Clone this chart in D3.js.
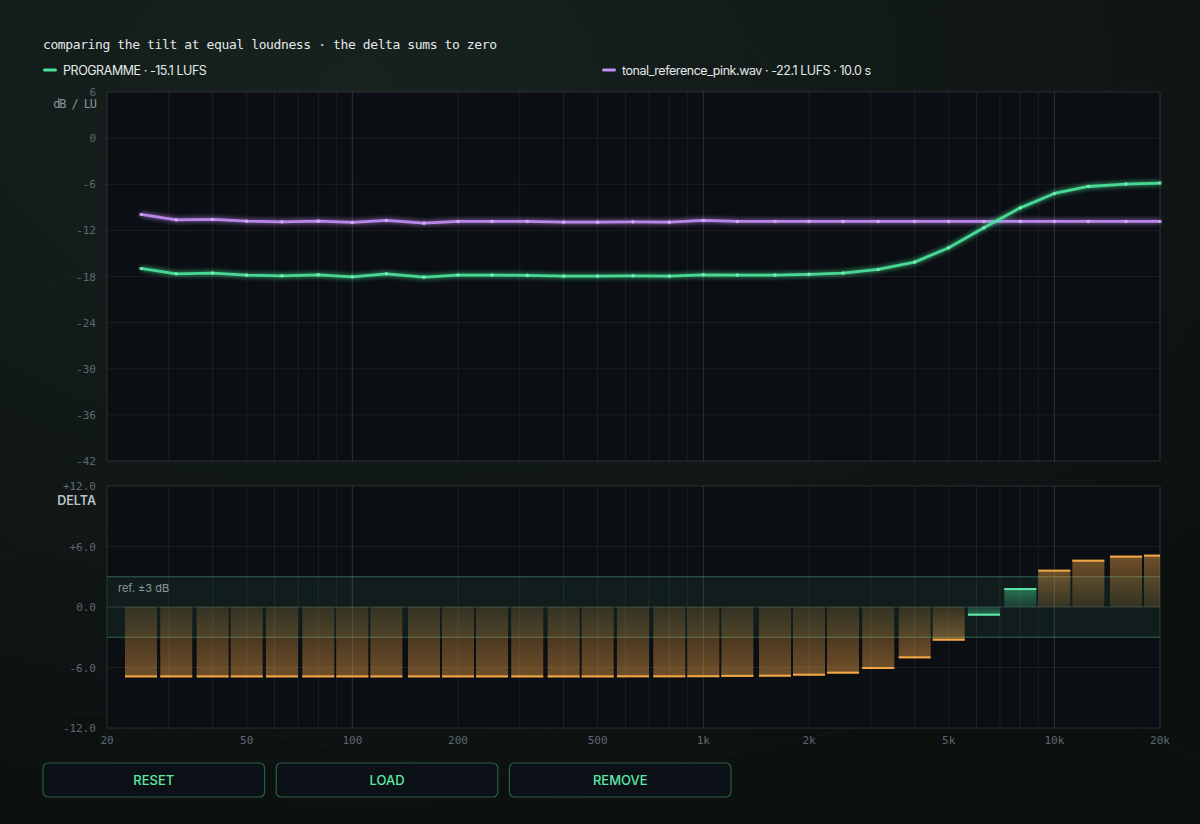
<!DOCTYPE html>
<html>
<head>
<meta charset="utf-8">
<script src="https://cdn.jsdelivr.net/npm/d3@7/dist/d3.min.js"></script>
<style>
  html, body { margin: 0; padding: 0; background: #0d1413; }
  svg { display: block; }
</style>
</head>
<body>
<script>
// 1/3-octave band centres (Hz)
var bands = [25, 31.5, 40, 50, 63, 80, 100, 125, 160, 200, 250, 315, 400, 500, 630, 800,
             1000, 1250, 1600, 2000, 2500, 3150, 4000, 5000, 6300, 8000, 10000, 12500, 16000, 20000];

// programme spectrum, dB/LU
var programme = [-16.95, -17.65, -17.56, -17.82, -17.91, -17.78, -18.04, -17.65, -18.08, -17.82,
                 -17.82, -17.86, -17.95, -17.95, -17.91, -17.95, -17.78, -17.82, -17.82, -17.73,
                 -17.56, -17.08, -16.13, -14.27, -11.67, -9.07, -7.20, -6.29, -5.98, -5.85];

// reference spectrum, dB/LU
var reference = [-9.93, -10.63, -10.58, -10.80, -10.89, -10.80, -10.97, -10.71, -11.06, -10.84,
                 -10.84, -10.84, -10.93, -10.93, -10.89, -10.93, -10.71, -10.84, -10.84, -10.84,
                 -10.84, -10.84, -10.84, -10.84, -10.84, -10.84, -10.84, -10.84, -10.84, -10.84];

// delta per band, dB
var delta = [-6.98, -6.98, -6.98, -6.98, -6.98, -6.98, -6.98, -6.98, -6.98, -6.98,
             -6.98, -6.98, -6.98, -6.98, -6.97, -6.97, -6.96, -6.93, -6.91, -6.81,
             -6.61, -6.15, -5.09, -3.34, -0.86, 1.88, 3.70, 4.69, 5.09, 5.19];

var topTicks = [6, 0, -6, -12, -18, -24, -30, -36, -42];
var deltaTicks = [12, 6, 0, -6, -12];
var freqTicks = [20, 50, 100, 200, 500, 1000, 2000, 5000, 10000, 20000];
var freqLabels = ["20", "50", "100", "200", "500", "1k", "2k", "5k", "10k", "20k"];
var buttons = ["RESET", "LOAD", "REMOVE"];

var W = 1200, H = 824;
var mono = "'DejaVu Sans Mono', monospace";
var sans = "Inter, 'Noto Sans', sans-serif";

var svg = d3.select("body").append("svg").attr("width", W).attr("height", H);
var defs = svg.append("defs");

// page background
var bg = defs.append("radialGradient").attr("id", "bg").attr("cx", "0.3").attr("cy", "0.1").attr("r", "0.9");
bg.append("stop").attr("offset", "0").attr("stop-color", "#17221f");
bg.append("stop").attr("offset", "1").attr("stop-color", "#0c1110");
svg.append("rect").attr("width", W).attr("height", H).attr("fill", "url(#bg)");

// faint contour lines in the background
var contour = svg.append("g").attr("fill", "none").attr("stroke", "rgba(150,190,170,0.04)").attr("stroke-width", 1);
contour.append("path").attr("d", "M0,560 C200,470 380,640 600,590 S980,440 1200,520");
contour.append("path").attr("d", "M0,300 C160,220 420,360 640,250 S1000,120 1200,200");
contour.append("path").attr("d", "M720,0 C760,90 880,140 1000,120 S1150,60 1200,90");
contour.append("path").attr("d", "M0,720 C240,680 420,820 700,760 S1050,690 1200,760");
contour.append("path").attr("d", "M0,470 C60,430 90,520 107,480");

// glow filter for the lines
var glow = defs.append("filter").attr("id", "glow").attr("x", "-5%").attr("y", "-50%").attr("width", "110%").attr("height", "200%");
glow.append("feGaussianBlur").attr("stdDeviation", 2.8).attr("result", "b");
var fm = glow.append("feMerge");
fm.append("feMergeNode").attr("in", "b");
fm.append("feMergeNode").attr("in", "SourceGraphic");

function barGrad(id, color, down) {
  var g = defs.append("linearGradient").attr("id", id).attr("x1", 0).attr("x2", 0)
    .attr("y1", down ? 0 : 1).attr("y2", down ? 1 : 0);
  g.append("stop").attr("offset", 0).attr("stop-color", color).attr("stop-opacity", 0.16);
  g.append("stop").attr("offset", 1).attr("stop-color", color).attr("stop-opacity", 0.45);
}
barGrad("orDown", "#eca247", true);
barGrad("orUp", "#eca247", false);
barGrad("grDown", "#4be39b", true);
barGrad("grUp", "#4be39b", false);

var x0 = 107, x1 = 1160;
var x = d3.scaleLog().domain([20, 20000]).range([x0, x1]);
var yTop = d3.scaleLinear().domain([-42, 6]).range([461, 92]);
var yDel = d3.scaleLinear().domain([-12, 12]).range([728, 486]);

// minor grid frequencies
var gridF = [];
[10, 100, 1000, 10000].forEach(function (dec) {
  for (var k = 1; k <= 9; k++) {
    var f = dec * k;
    if (f >= 20 && f <= 20000) gridF.push(f);
  }
});

function panel(y, ticks, fmt) {
  var top = y.range()[1], bot = y.range()[0];
  var g = svg.append("g");
  g.append("rect").attr("x", x0).attr("y", top).attr("width", x1 - x0).attr("height", bot - top)
    .attr("fill", "#0b0e12").attr("stroke", "rgba(255,255,255,0.07)");
  g.selectAll(".vg").data(gridF).enter().append("line")
    .attr("x1", function (d) { return x(d); }).attr("x2", function (d) { return x(d); })
    .attr("y1", top).attr("y2", bot)
    .attr("stroke", function (d) { return [100, 1000, 10000].indexOf(d) >= 0 ? "rgba(200,215,225,0.18)" : "rgba(200,215,225,0.085)"; });
  g.selectAll(".hg").data(ticks).enter().append("line")
    .attr("x1", x0).attr("x2", x1)
    .attr("y1", function (d) { return y(d); }).attr("y2", function (d) { return y(d); })
    .attr("stroke", "rgba(200,215,225,0.08)");
  g.selectAll(".tl").data(ticks).enter().append("text")
    .attr("x", 96).attr("y", function (d) { return y(d) + 4; })
    .attr("text-anchor", "end").attr("fill", "#5f6872")
    .style("font", "11px " + mono).text(fmt);
  return g;
}

panel(yTop, topTicks, function (d) { return d; });
panel(yDel, deltaTicks, function (d) { return (d > 0 ? "+" : "") + d.toFixed(1); });

svg.append("text").attr("x", 96).attr("y", 108).attr("text-anchor", "end").attr("fill", "#8a939c")
  .style("font", "12px " + mono).style("letter-spacing", "-1.1px").text("dB / LU");
svg.append("text").attr("x", 96).attr("y", 505).attr("text-anchor", "end").attr("fill", "#b9c1c8")
  .style("font", "600 12.5px " + sans).text("DELTA");

// title + legend
svg.append("text").attr("x", 43).attr("y", 49).attr("fill", "#e4e8e9")
  .attr("textLength", 454).attr("lengthAdjust", "spacing")
  .style("font", "13px " + mono)
  .text("comparing the tilt at equal loudness \u00b7 the delta sums to zero");
var legend = [
  { x: 43, color: "#4be39b", label: "PROGRAMME \u00b7 -15.1 LUFS" },
  { x: 602, color: "#c38ef5", label: "tonal_reference_pink.wav \u00b7 -22.1 LUFS \u00b7 10.0 s" }
];
var lg = svg.selectAll(".lg").data(legend).enter().append("g");
lg.append("rect").attr("x", function (d) { return d.x; }).attr("y", 68.5).attr("width", 14).attr("height", 3)
  .attr("rx", 1.5).attr("fill", function (d) { return d.color; });
lg.append("text").attr("x", function (d) { return d.x + 20; }).attr("y", 74.5).attr("fill", "#e4e8e9")
  .style("font", "12.5px " + sans).style("letter-spacing", "-0.45px").text(function (d) { return d.label; });

// spectrum lines
var line = d3.line().x(function (d, i) { return x(bands[i]); }).y(function (d) { return yTop(d); });
[{ v: reference, c: "#c38ef5", p: "#d9b8fa" }, { v: programme, c: "#4be39b", p: "#8ef0c0" }].forEach(function (s) {
  svg.append("path").datum(s.v).attr("d", line).attr("fill", "none")
    .attr("stroke", s.c).attr("stroke-width", 2.8).attr("stroke-linejoin", "round")
    .attr("filter", "url(#glow)").attr("opacity", 0.95);
  svg.selectAll(null).data(s.v).enter().append("circle")
    .attr("cx", function (d, i) { return x(bands[i]); }).attr("cy", function (d) { return yTop(d); })
    .attr("r", 1.8).attr("fill", s.p).attr("opacity", 0.75);
});

// delta panel: reference band
svg.append("clipPath").attr("id", "dclip").append("rect")
  .attr("x", x0).attr("y", 486).attr("width", x1 - x0).attr("height", 242);
var dg = svg.append("g").attr("clip-path", "url(#dclip)");
dg.append("rect").attr("x", x0).attr("y", yDel(3)).attr("width", x1 - x0).attr("height", yDel(-3) - yDel(3))
  .attr("fill", "rgba(70,190,130,0.09)");
[3, -3].forEach(function (v) {
  dg.append("line").attr("x1", x0).attr("x2", x1).attr("y1", yDel(v)).attr("y2", yDel(v))
    .attr("stroke", "rgba(90,200,145,0.45)");
});
dg.append("line").attr("x1", x0).attr("x2", x1).attr("y1", yDel(0)).attr("y2", yDel(0))
  .attr("stroke", "rgba(200,215,225,0.14)");

var step = Math.pow(2, 1 / 6);
var bars = dg.selectAll(".bar").data(delta).enter().append("g");
function inside(d) { return Math.abs(d) <= 3; }
bars.append("rect")
  .attr("x", function (d, i) { return x(bands[i] / step) + 1.6; })
  .attr("width", function (d, i) { return x(bands[i] * step) - x(bands[i] / step) - 3.2; })
  .attr("y", function (d) { return Math.min(yDel(0), yDel(d)); })
  .attr("height", function (d) { return Math.abs(yDel(d) - yDel(0)); })
  .attr("fill", function (d) { return "url(#" + (inside(d) ? "gr" : "or") + (d < 0 ? "Down" : "Up") + ")"; });
bars.append("rect")
  .attr("x", function (d, i) { return x(bands[i] / step) + 1.6; })
  .attr("width", function (d, i) { return x(bands[i] * step) - x(bands[i] / step) - 3.2; })
  .attr("y", function (d) { return yDel(d) - (d < 0 ? 2 : 0); })
  .attr("height", 2)
  .attr("fill", function (d) { return inside(d) ? "#5ee8a6" : "#f3a744"; });

svg.append("text").attr("x", 118).attr("y", 592).attr("fill", "#8d979d")
  .style("font", "11px " + sans).text("ref. \u00b13 dB");

// frequency axis labels
svg.selectAll(".fl").data(freqTicks).enter().append("text")
  .attr("x", function (d) { return x(d); }).attr("y", 744)
  .attr("text-anchor", "middle").attr("fill", "#5f6872")
  .style("font", "11px " + mono).text(function (d, i) { return freqLabels[i]; });

// buttons
var bx = d3.scaleBand().domain(buttons).range([43, 731]).paddingInner(0.05);
var bg2 = svg.selectAll(".btn").data(buttons).enter().append("g");
bg2.append("rect").attr("x", function (d) { return bx(d); }).attr("y", 763)
  .attr("width", bx.bandwidth()).attr("height", 34).attr("rx", 5)
  .attr("fill", "#0c1117").attr("stroke", "rgba(70,170,120,0.5)").attr("stroke-width", 1.2);
bg2.append("text").attr("x", function (d) { return bx(d) + bx.bandwidth() / 2; }).attr("y", 784.5)
  .attr("text-anchor", "middle").attr("fill", "#5ee8a6")
  .style("font", "500 13px " + sans).text(function (d) { return d; });
</script>
</body>
</html>
